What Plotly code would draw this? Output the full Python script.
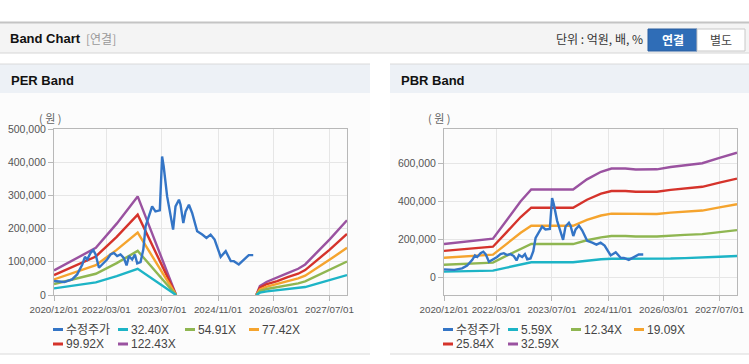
import plotly.graph_objects as go

W, H = 749, 364

# ---------------- data ----------------
price_dates = ["2020-12-01","2021-03-01","2021-05-08","2021-06-21","2021-08-05","2021-08-28","2021-09-17",
               "2021-10-16","2021-11-09","2021-11-29","2021-12-28","2022-01-27","2022-03-09","2022-04-08",
               "2022-05-07","2022-06-05","2022-07-04","2022-08-02","2022-08-26","2022-09-16","2022-10-14",
               "2022-11-07","2022-11-27","2022-12-26","2023-01-19","2023-02-08","2023-03-07","2023-04-06",
               "2023-05-05","2023-06-12","2023-07-02","2023-07-16","2023-08-15","2023-09-13","2023-10-06",
               "2023-10-27","2023-11-26","2023-12-10","2024-01-03","2024-01-23","2024-02-21","2024-03-20",
               "2024-05-03","2024-06-16","2024-07-23","2024-08-28","2024-10-02","2024-11-24","2025-01-07",
               "2025-02-20","2025-03-19","2025-05-01","2025-06-14","2025-07-27","2025-09-04"]
price = [42000,39000,47000,62000,92000,115000,107000,127000,135000,122000,
         82000,92000,107000,122000,127000,117000,122000,112000,89000,117000,
         107000,122000,95000,99000,137000,207000,237000,267000,252000,255000,
         417000,387000,297000,242000,197000,267000,287000,272000,217000,252000,
         272000,247000,192000,182000,172000,182000,167000,115000,132000,102000,
         102000,92000,107000,120000,120000]

per_dates = ["2020-12-01","2021-06-01","2021-12-01","2022-06-01","2022-12-01","2023-11-01","2024-11-01",
             "2025-10-01","2025-11-01","2026-01-01","2026-04-01","2026-07-01","2026-10-01","2026-12-01",
             "2027-03-01","2027-07-01","2027-12-01"]
per_32_40 = [20000,29000,38000,57000,79000,0,None,0,7000,11000,14000,17000,21000,24000,33000,44000,60000]
per_54_91 = [33000,48000,64000,96000,133000,0,None,0,12000,18000,23000,30000,35000,41000,56000,75000,101000]
per_77_42 = [47000,68000,90000,136000,188000,0,None,0,17000,25000,33000,42000,50000,58000,78000,106000,142000]
per_99_92 = [60000,88000,116000,175000,242000,0,None,0,22000,33000,42000,54000,64000,75000,101000,136000,184000]
per_122_43 = [74000,108000,142000,215000,297000,0,None,0,27000,40000,52000,66000,79000,92000,124000,167000,225000]

pbr_dates = ["2020-12-01","2021-06-01","2022-01-01","2022-02-01","2022-06-01","2022-10-01","2023-01-01",
             "2024-01-01","2024-05-01","2024-09-01","2024-12-01","2025-04-01","2025-07-01","2026-01-01",
             "2026-05-01","2026-09-01","2027-02-01","2027-07-01","2027-12-01"]
pbr_5_59 = [30000,32000,34000,35000,51000,69000,79000,79000,88000,95000,98000,98000,97000,97000,
            99000,101000,103000,108000,112000]
pbr_12_34 = [66000,70000,75000,77000,114000,151000,175000,175000,195000,210000,217000,217000,215000,215000,
             220000,223000,227000,238000,248000]
pbr_19_09 = [103000,109000,116000,119000,176000,234000,271000,271000,302000,325000,335000,335000,332000,333000,
             340000,344000,351000,368000,384000]
pbr_25_84 = [139000,147000,157000,161000,238000,317000,366000,366000,408000,440000,454000,454000,450000,450000,
             460000,466000,476000,498000,519000]
pbr_32_59 = [175000,186000,198000,203000,300000,400000,462000,462000,515000,555000,572000,572000,567000,568000,
             580000,588000,600000,628000,655000]

tick_dates = ["2020-12-01","2022-03-01","2023-07-01","2024-11-01","2026-03-01","2027-07-01"]
tick_labels = ["2020/12/01","2022/03/01","2023/07/01","2024/11/01","2026/03/01","2027/07/01"]

per_names = ["수정주가","32.40X","54.91X","77.42X","99.92X","122.43X"]
pbr_names = ["수정주가","5.59X","12.34X","19.09X","25.84X","32.59X"]
colors = ["#3475c6","#1db4c6","#8fb651","#f5a42e","#d5332b","#9a52a0"]

# ---------------- figure ----------------
def px(x):
    return x / W

def py(y):
    return 1 - y / H

fig = go.Figure()

per_series = [(price_dates, price), (per_dates, per_32_40), (per_dates, per_54_91),
              (per_dates, per_77_42), (per_dates, per_99_92), (per_dates, per_122_43)]
pbr_series = [(price_dates, price), (pbr_dates, pbr_5_59), (pbr_dates, pbr_12_34),
              (pbr_dates, pbr_19_09), (pbr_dates, pbr_25_84), (pbr_dates, pbr_32_59)]

order = [5, 4, 3, 2, 1, 0]
for i in order:
    d, v = per_series[i]
    fig.add_trace(go.Scatter(x=d, y=v, name=per_names[i], mode="lines",
                             line=dict(color=colors[i], width=2.4), connectgaps=False,
                             xaxis="x", yaxis="y", showlegend=False))
for i in order:
    d, v = pbr_series[i]
    fig.add_trace(go.Scatter(x=d, y=v, name=pbr_names[i], mode="lines",
                             line=dict(color=colors[i], width=2.4), connectgaps=False,
                             xaxis="x2", yaxis="y2", showlegend=False))

xfont = dict(family="Liberation Sans, Arial, sans-serif", size=9.8, color="#555555")
yfont = dict(family="Liberation Sans, Arial, sans-serif", size=10.5, color="#555555")
xcommon = dict(type="date", range=["2020-12-01", "2027-12-01"], tickvals=tick_dates, ticktext=tick_labels,
               showgrid=True, gridcolor="#e6e6e6", showline=True, mirror=True, linecolor="#b8b8b8",
               linewidth=1, ticks="outside", ticklen=5, tickcolor="#b8b8b8", tickfont=xfont,
               tickangle=0, automargin=False, zeroline=False, fixedrange=True)
ycommon = dict(showgrid=True, gridcolor="#e6e6e6", showline=True, mirror=True, linecolor="#b8b8b8",
               linewidth=1, ticks="outside", ticklen=5, tickcolor="#b8b8b8", tickfont=yfont,
               tickformat=",", automargin=False, zeroline=False, fixedrange=True)

fig.update_layout(
    width=W, height=H, margin=dict(l=0, r=0, t=0, b=0, autoexpand=False),
    paper_bgcolor="#ffffff", plot_bgcolor="#ffffff",
    xaxis=dict(xcommon, domain=[px(54), px(347)], anchor="y"),
    yaxis=dict(ycommon, domain=[py(295), py(129)], range=[0, 500000], dtick=100000, anchor="x"),
    xaxis2=dict(xcommon, domain=[px(444), px(737)], anchor="y2"),
    yaxis2=dict(ycommon, domain=[py(295), py(129)], range=[-93000, 780000],
                tickvals=[0, 200000, 400000, 600000], anchor="x2"),
    showlegend=False,
)

shapes = []
def rect(x0, y0, x1, y1, fill, line=None, lw=0, layer="below"):
    shapes.append(dict(type="rect", xref="paper", yref="paper", x0=px(x0), x1=px(x1), y0=py(y1), y1=py(y0),
                       fillcolor=fill, line=dict(width=lw, color=line or fill), layer=layer))

def hline(x0, x1, y, color, w=1):
    shapes.append(dict(type="line", xref="paper", yref="paper", x0=px(x0), x1=px(x1), y0=py(y), y1=py(y),
                       line=dict(color=color, width=w), layer="below"))

# top header
rect(0, 22, 749, 53, "#f4f4f4")
hline(0, 749, 22.5, "#c4c4c4", 2)
hline(0, 749, 53, "#d6d6d6", 1)
rect(648, 29, 697, 51, "#2f6db7", "#2a5f9f", 1, layer="above")
rect(697, 29, 745, 51, "#ffffff", "#c8c8c8", 1, layer="above")

# panels
for (x0, x1) in [(0, 370), (390, 749)]:
    rect(x0, 93, x1, 354, "#fcfcfc")
    rect(x0, 64, x1, 93, "#edf1f6")
    hline(x0, x1, 64, "#dadada", 1)
    hline(x0, x1, 354, "#dadada", 1)

annotations = []
def text(x, y, s, size=12, color="#333333", family="Liberation Sans, Noto Sans CJK KR, sans-serif",
         xanchor="left", bold=False):
    if bold:
        s = "<b>" + s + "</b>"
    annotations.append(dict(x=px(x), y=py(y), xref="paper", yref="paper", text=s, showarrow=False,
                            xanchor=xanchor, yanchor="middle", font=dict(size=size, color=color, family=family)))

text(8, 39, "Band Chart", size=13, color="#111111", bold=True)
text(84, 39, "[연결]", size=12, color="#999999", family="Noto Sans CJK KR, sans-serif")
text(645, 39, "단위 : 억원, 배, %", size=12, color="#333333", family="Noto Sans CJK KR, sans-serif", xanchor="right")
text(672.5, 39.5, "연결", size=12, color="#ffffff", family="Noto Sans CJK KR, sans-serif", xanchor="center", bold=True)
text(721, 39.5, "별도", size=12, color="#444444", family="Noto Sans CJK KR, sans-serif", xanchor="center")

text(9, 80, "PER Band", size=13, color="#111111", bold=True)
text(399, 80, "PBR Band", size=13, color="#111111", bold=True)
text(50, 118, "( 원 )", size=11, color="#666666", family="Noto Sans CJK KR, sans-serif", xanchor="center")
text(439, 118, "( 원 )", size=11, color="#666666", family="Noto Sans CJK KR, sans-serif", xanchor="center")

def legend(names, cols, rows_y):
    for k, name in enumerate(names):
        r, c = divmod(k, 4)
        x = cols[c]
        y = rows_y[r]
        shapes.append(dict(type="line", xref="paper", yref="paper", x0=px(x), x1=px(x + 10), y0=py(y), y1=py(y),
                           line=dict(color=colors[k], width=3)))
        text(x + 11, y, name, size=12, color="#444444",
             family="Liberation Sans, Noto Sans CJK KR, sans-serif")

legend(per_names, [53, 118, 185, 249], [329.5, 344])
legend(pbr_names, [443, 508, 571, 634], [329.5, 344])

fig.update_layout(shapes=shapes, annotations=annotations)

fig.write_html("out.html", config={"displayModeBar": False},
               post_script="document.body.style.margin='0';")
